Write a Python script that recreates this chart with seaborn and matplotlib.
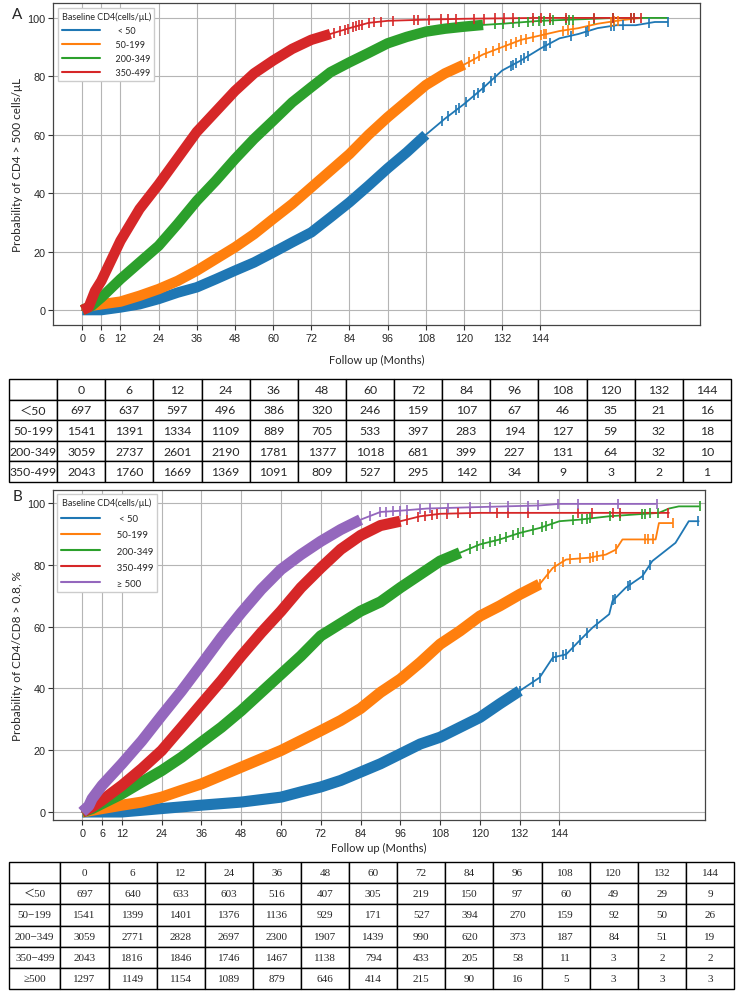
import numpy as np
import pandas as pd
import matplotlib
matplotlib.use('Agg')
import matplotlib.pyplot as plt
import seaborn as sns
import logging
logging.getLogger('matplotlib.font_manager').setLevel(logging.ERROR)

sns.set_theme(style='whitegrid')
plt.rcParams['font.family'] = ['Lato', 'DejaVu Sans']
plt.rcParams['axes.unicode_minus'] = False

# ---------------- 数据 ----------------
groups_a = ['< 50', '50-199', '200-349', '350-499']
groups_b = ['< 50', '50-199', '200-349', '350-499', '≥ 500']

# Panel A: CD4 > 500
a_lt50_m = [0, 6, 12, 18, 24, 30, 36, 42, 48, 54, 60, 66, 72, 78, 84, 90, 96, 102, 108, 114, 120, 126, 132, 138, 144, 150, 156, 162, 168, 174, 180, 184]
a_lt50_p = [0, 0, 0.9, 2, 3.8, 6, 7.8, 10.6, 13.5, 16.3, 19.7, 23.2, 26.6, 31.7, 36.9, 42.6, 48.5, 54, 60, 65.5, 70.5, 76, 82, 85.5, 89.5, 93, 94.5, 96.5, 97.5, 97.5, 98.6, 98.6]
a_50_m = [0, 3, 6, 12, 18, 24, 30, 36, 42, 48, 54, 60, 66, 72, 78, 84, 90, 96, 102, 108, 114, 120, 126, 132, 138, 144, 150, 156, 162, 168, 174, 176]
a_50_p = [0, 1.5, 2, 2.9, 4.9, 7.2, 10, 13.5, 17.5, 21.5, 26, 31.2, 36.3, 42, 47.7, 53.4, 60, 66, 71.5, 77, 81, 84, 87.5, 90, 92.5, 94, 95.5, 96.5, 98, 99, 99.8, 100]
a_200_m = [0, 3, 6, 12, 18, 24, 30, 36, 42, 48, 54, 60, 66, 72, 78, 84, 90, 96, 102, 108, 114, 120, 126, 132, 138, 144, 156, 168, 184]
a_200_p = [0, 1.5, 4.3, 10.6, 16.3, 22, 29.5, 37.4, 44.3, 51.7, 58.6, 64.8, 71.1, 76.3, 81.4, 84.8, 88, 91.3, 93.5, 95.3, 96.3, 97, 97.6, 98, 98.5, 99, 99.5, 100, 100]
a_350_m = [0, 2, 4, 6, 12, 18, 24, 30, 36, 42, 48, 54, 60, 66, 72, 78, 84, 90, 96, 108, 120, 144, 175]
a_350_p = [0, 1, 6.5, 10, 23.7, 34.6, 43, 52, 61, 68, 75, 81, 85.4, 89.4, 92.5, 94.5, 96.5, 98.3, 99, 99.4, 99.7, 100, 100]

a_lt50_cens = [113, 115, 117.5, 118.5, 120.6, 123.3, 124.3, 126, 126.4, 128.5, 129.6, 134.8, 135.3, 136.4, 138, 139, 140, 145.3, 145.8, 147, 153.7, 158.4, 159, 166.2, 167.3, 170, 178.3, 184]
a_50_cens = [121.7, 123.3, 124.8, 127, 129, 131, 133.2, 134.8, 136.4, 138, 139.5, 141.6, 144.2, 145.3, 145.8, 151, 152.6, 154.2, 159.4, 166.2, 167.3, 168.3]
a_200_cens = [129.6, 132.2, 135.3, 137.4, 140, 141.6, 143.7, 145.3, 147, 148, 152, 153, 154.2, 161, 166.8, 172.5, 173.6]
a_350_cens = [77, 79, 81, 82.5, 83.5, 85, 86, 87, 88, 90.2, 91.8, 93.9, 97.6, 104.4, 105.4, 109.1, 112.8, 115, 117.5, 123.3, 126.4, 129.6, 132.7, 135.3, 141.6, 144.2, 147, 152, 161, 166.8, 172.5, 173.6, 175.7]

# Panel B: CD4/CD8 > 0.8
b_lt50_m = [0, 12, 24, 36, 48, 54, 60, 66, 72, 78, 84, 90, 96, 102, 108, 114, 120, 126, 132, 138, 142, 146, 150, 154, 159, 160, 164, 169, 172, 179, 183, 186]
b_lt50_p = [0, 0, 1.1, 2.2, 3.2, 4, 4.8, 6.5, 8.1, 10.2, 12.9, 15.6, 18.8, 22, 24.2, 27.4, 30.6, 35, 39.2, 43.5, 50, 51, 55.4, 59.7, 64, 68.3, 72.6, 76.3, 81.2, 87.1, 94.1, 94.1]
b_50_m = [0, 6, 12, 18, 24, 30, 36, 42, 48, 54, 60, 66, 72, 78, 84, 90, 96, 102, 108, 114, 120, 126, 132, 138, 142, 146, 153, 158, 161, 163, 173, 174, 178]
b_50_p = [0, 1.1, 2.2, 3.2, 4.8, 7, 9.1, 11.8, 14.5, 17.2, 19.9, 23.1, 26.3, 29.6, 33.5, 38.7, 43, 48.4, 54.3, 58.6, 63.4, 66.7, 70.4, 73.7, 79, 81.7, 82.3, 83.3, 84.9, 88.2, 88.2, 93.5, 93.5]
b_200_m = [0, 3, 6, 12, 18, 24, 30, 36, 42, 48, 54, 60, 66, 72, 78, 84, 90, 96, 102, 108, 114, 120, 126, 132, 138, 144, 150, 159, 174, 177, 180, 186]
b_200_p = [0, 1.1, 2.7, 5.9, 9.7, 13.4, 17.7, 22.6, 27.4, 32.8, 38.7, 44.6, 50.5, 57, 61, 65, 68, 72.6, 76.9, 81.2, 83.9, 86.6, 88.2, 90.3, 91.9, 94.1, 94.6, 95.7, 96.8, 98.2, 98.9, 98.9]
b_350_m = [0, 3, 6, 12, 18, 24, 30, 36, 42, 48, 54, 60, 66, 72, 78, 84, 90, 96, 102, 108, 120, 177]
b_350_p = [0, 1.6, 3.8, 8.6, 14, 19.9, 27.4, 35, 42.5, 50.5, 58, 65, 72.6, 79, 85, 89.5, 92.7, 94.1, 95.7, 96.5, 96.8, 96.8]
b_500_m = [0, 2, 3, 6, 12, 18, 24, 30, 36, 42, 48, 54, 60, 66, 72, 78, 84, 90, 96, 104, 117, 138, 144, 173]
b_500_p = [0, 2, 4.3, 8.6, 15.6, 23, 31.2, 39.2, 47.8, 56.5, 64.5, 72, 78.5, 83.3, 87.6, 91.4, 94.6, 97.1, 97.5, 98.2, 98.6, 99.2, 99.7, 99.7]

b_lt50_cens = [131, 132, 136, 138, 142, 143, 145, 146, 148.2, 150.2, 152.2, 155.2, 160.2, 160.7, 164.7, 165.2, 169.3, 171.3, 185.9]
b_50_cens = [132, 134, 136, 138, 140.6, 142.6, 145, 147.2, 150.2, 153.2, 154.2, 155.2, 157.2, 161.2, 169.8, 170.8, 172.3, 178.3]
b_200_cens = [117, 119, 121, 123, 124.5, 126, 128, 130, 131.6, 133, 136, 138.6, 140, 141.6, 148.2, 150.7, 152.2, 153.2, 159.2, 162.2, 168.8, 169.8, 171.3, 173.8, 186.4]
b_350_cens = [98, 101.4, 103.4, 105.4, 107, 110, 113.5, 117, 125, 128.5, 134.6, 149.7, 153.7, 160.2, 162.2, 176.8]
b_500_cens = [86.8, 89.8, 91.8, 93.9, 95.9, 97.9, 101.9, 104.9, 110.4, 117, 123, 128.5, 134.6, 137.6, 143.6, 149.7, 161.7, 173.3]

# 风险人数表
table_months = ['0', '6', '12', '24', '36', '48', '60', '72', '84', '96', '108', '120', '132', '144']
risk_a_rows = ['＜50', '50-199', '200-349', '350-499']
risk_a = [[697, 637, 597, 496, 386, 320, 246, 159, 107, 67, 46, 35, 21, 16],
          [1541, 1391, 1334, 1109, 889, 705, 533, 397, 283, 194, 127, 59, 32, 18],
          [3059, 2737, 2601, 2190, 1781, 1377, 1018, 681, 399, 227, 131, 64, 32, 10],
          [2043, 1760, 1669, 1369, 1091, 809, 527, 295, 142, 34, 9, 3, 2, 1]]
risk_b_rows = ['＜50', '50−199', '200−349', '350−499', '≥500']
risk_b = [[697, 640, 633, 603, 516, 407, 305, 219, 150, 97, 60, 49, 29, 9],
          [1541, 1399, 1401, 1376, 1136, 929, 171, 527, 394, 270, 159, 92, 50, 26],
          [3059, 2771, 2828, 2697, 2300, 1907, 1439, 990, 620, 373, 187, 84, 51, 19],
          [2043, 1816, 1846, 1746, 1467, 1138, 794, 433, 205, 58, 11, 3, 2, 2],
          [1297, 1149, 1154, 1089, 879, 646, 414, 215, 90, 16, 5, 3, 3, 3]]

xticks = [0, 6, 12, 24, 36, 48, 60, 72, 84, 96, 108, 120, 132, 144]
colors = sns.color_palette('tab10', 5)

curves_a = [(a_lt50_m, a_lt50_p, a_lt50_cens), (a_50_m, a_50_p, a_50_cens),
            (a_200_m, a_200_p, a_200_cens), (a_350_m, a_350_p, a_350_cens)]
curves_b = [(b_lt50_m, b_lt50_p, b_lt50_cens), (b_50_m, b_50_p, b_50_cens),
            (b_200_m, b_200_p, b_200_cens), (b_350_m, b_350_p, b_350_cens),
            (b_500_m, b_500_p, b_500_cens)]
dense_a = [112, 121, 129, 80]
dense_b = [132, 140, 117, 97, 85]


def draw_panel(ax, groups, curves, dense, band_lw):
    df = pd.concat([pd.DataFrame({'month': m, 'prob': p, 'group': g})
                    for g, (m, p, c) in zip(groups, curves)])
    sns.lineplot(data=df, x='month', y='prob', hue='group', hue_order=groups,
                 palette=colors[:len(groups)], estimator=None, sort=False,
                 linewidth=1.3, ax=ax)
    for i, (m, p, c) in enumerate(curves):
        m = np.array(m, float)
        p = np.array(p, float)
        keep = m <= dense[i]
        ax.plot(m[keep], p[keep], color=colors[i], lw=band_lw,
                solid_capstyle='butt', zorder=3 + i)
        ax.plot(c, np.interp(c, m, p), ls='none', marker='|', ms=7, mew=1.2,
                color=colors[i], zorder=3 + i)
    ax.set_xticks(xticks)
    ax.set_yticks([0, 20, 40, 60, 80, 100])
    ax.tick_params(axis='both', labelsize=7.8, length=3.5, width=0.8,
                   color='#333333', pad=2, bottom=True, left=True)
    for lab in ax.get_xticklabels() + ax.get_yticklabels():
        lab.set_family(['Liberation Sans Narrow', 'Liberation Sans', 'DejaVu Sans'])
    ax.grid(True, color='#b5b5b5', lw=0.8)
    for s in ax.spines.values():
        s.set_color('#444444')
        s.set_linewidth(0.9)
    handles, labels = ax.get_legend_handles_labels()
    labels = ['   ' + l if l.startswith('<') else '  ' + l for l in labels]
    return handles, labels


def draw_table(ax, row_names, values, family, fs, first_w):
    ax.axis('off')
    cells = [[''] + table_months] + [[r] + [str(v) for v in row] for r, row in zip(row_names, values)]
    widths = [first_w] + [1.0] * len(table_months)
    tot = sum(widths)
    tab = ax.table(cellText=cells, cellLoc='center', bbox=[0, 0, 1, 1],
                   colWidths=[w / tot for w in widths])
    tab.auto_set_font_size(False)
    for (r, c), cell in tab.get_celld().items():
        cell.set_edgecolor('black')
        cell.set_linewidth(1.0)
        cell.get_text().set_fontsize(fs)
        cell.get_text().set_family(family)


fig = plt.figure(figsize=(7.38, 9.95), dpi=100)
W, H = 738, 995


def px_axes(x0, y0, x1, y1):
    return fig.add_axes([x0 / W, 1 - y1 / H, (x1 - x0) / W, (y1 - y0) / H])


# Panel A
ax_a = px_axes(53, 4, 700, 326)
h, l = draw_panel(ax_a, groups_a, curves_a, dense_a, 7.5)
ax_a.set_xlim(-9.2, 194.2)
ax_a.set_ylim(-5.1, 105.1)
ax_a.set_xlabel('Follow up (Months)', fontsize=8, labelpad=8)
ax_a.set_ylabel('Probability of CD4 > 500 cells/μL', fontsize=8.5, labelpad=3)
leg = ax_a.legend(h, l, title='Baseline CD4(cells/μL)', loc='upper left',
                  bbox_to_anchor=(5 / 647, 1 - 5 / 322), borderaxespad=0,
                  fontsize=6.5, title_fontsize=6.5, handlelength=4.2,
                  handletextpad=1.2, labelspacing=0.55, frameon=True,
                  fancybox=False, edgecolor='#cccccc', framealpha=1)
for line in leg.get_lines():
    line.set_linewidth(1.5)
fig.text(12 / W, 1 - 15 / H, 'A', fontsize=11, ha='left', va='center')

ax_ta = px_axes(9, 380, 731, 483)
draw_table(ax_ta, risk_a_rows, risk_a, ['Lato', 'Noto Sans CJK SC'], 8.8, 1.0)

# Panel B
ax_b = px_axes(53, 491, 705, 821)
h, l = draw_panel(ax_b, groups_b, curves_b, dense_b, 8.0)
ax_b.set_xlim(-8.8, 187.9)
ax_b.set_ylim(-2.6, 104.2)
ax_b.set_xlabel('Follow up (Months)', fontsize=8, labelpad=3)
ax_b.set_ylabel('Probability of CD4/CD8 > 0.8, %', fontsize=8.5, labelpad=3)
leg = ax_b.legend(h, l, title='Baseline CD4(cells/μL)', loc='upper left',
                  bbox_to_anchor=(4 / 652, 1 - 4 / 330), borderaxespad=0,
                  fontsize=6.8, title_fontsize=6.5, handlelength=4.2,
                  handletextpad=1.2, labelspacing=0.75, frameon=True,
                  fancybox=False, edgecolor='#cccccc', framealpha=1)
for line in leg.get_lines():
    line.set_linewidth(1.5)
fig.text(13 / W, 1 - 497 / H, 'B', fontsize=11, ha='left', va='center')

ax_tb = px_axes(9, 863, 734, 990)
draw_table(ax_tb, risk_b_rows, risk_b, ['Liberation Serif', 'Noto Sans CJK SC'], 8, 1.07)

fig.savefig('out.png', dpi=100)
